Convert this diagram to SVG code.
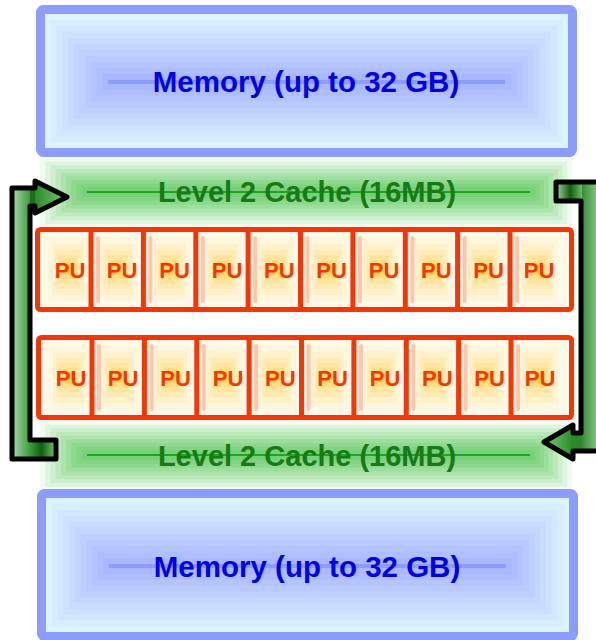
<svg xmlns="http://www.w3.org/2000/svg" xmlns:xlink="http://www.w3.org/1999/xlink" width="596" height="640" viewBox="0 0 596 640">
<style>
.mem{font-family:"Liberation Sans",Arial,sans-serif;font-weight:bold;font-size:29.5px;fill:#0000ee;text-anchor:middle}
.l2{font-family:"Liberation Sans",Arial,sans-serif;font-weight:bold;font-size:29px;fill:#167a16;text-anchor:middle}
.pu{font-family:"Liberation Sans",Arial,sans-serif;font-weight:bold;font-size:22px;fill:#ff3300;text-anchor:middle}
.memborder{fill:none;stroke:#8c9cff;stroke-width:9}
.red{fill:none;stroke:#ff3300;stroke-width:5}
.outline{fill:none;stroke:#000;stroke-width:5;stroke-linejoin:round}
</style>
<defs>
<g id="cell">
<rect x="0" y="0" width="48" height="75" fill="#fffaea"/>
<rect x="4" y="6" width="40" height="63" fill="#fff6dc"/>
<rect x="8" y="12" width="32" height="51" fill="#fff1cc"/>
<rect x="11" y="18" width="26" height="39" fill="#ffebb6"/>
<rect x="14" y="23" width="20" height="29" fill="#ffe59f"/>
<rect x="17" y="28" width="14" height="19" fill="#ffde86"/>
<rect x="20" y="32" width="8" height="11" fill="#ffd766"/>
<rect x="23" y="33" width="2" height="9" fill="#ffcc22"/>
</g>
<rect id="strip" x="0" y="0" width="4" height="67" rx="2" fill="#ffc6ae"/>
<g id="memfill">
<rect x="45" y="14" width="523" height="134" fill="#dcf4ff"/>
<rect x="50.7" y="20" width="511.5" height="122.2" fill="#d7eeff"/>
<rect x="56.5" y="26" width="500.1" height="110.4" fill="#d2e8ff"/>
<rect x="62.2" y="32" width="488.6" height="98.5" fill="#cde2ff"/>
<rect x="67.9" y="38" width="477.2" height="86.7" fill="#c8dcff"/>
<rect x="73.6" y="44" width="465.7" height="74.9" fill="#c3d6ff"/>
<rect x="79.4" y="50" width="454.3" height="63.1" fill="#bdd0ff"/>
<rect x="85.1" y="56" width="442.8" height="51.3" fill="#b8caff"/>
<rect x="90.8" y="62" width="431.4" height="39.5" fill="#b3c4ff"/>
<rect x="96.5" y="68" width="419.9" height="27.6" fill="#aebeff"/>
<rect x="102.3" y="74" width="408.5" height="15.8" fill="#a9b8ff"/>
<rect x="108" y="80" width="397" height="4" fill="#8c9cff"/>
</g>
<g id="cachefill">
<rect x="40" y="158" width="532" height="70" fill="#f2fbf2"/>
<rect x="45.2" y="161.7" width="522.1" height="62.4" fill="#dff5df"/>
<rect x="50.4" y="165.3" width="512.3" height="54.9" fill="#cdefcd"/>
<rect x="55.7" y="169" width="502.3" height="47.3" fill="#bceabc"/>
<rect x="60.9" y="172.7" width="492.4" height="39.7" fill="#ace4ac"/>
<rect x="66.1" y="176.3" width="482.6" height="32.2" fill="#9cde9c"/>
<rect x="71.3" y="180" width="472.7" height="24.7" fill="#8ed98e"/>
<rect x="76.6" y="183.7" width="462.7" height="17.1" fill="#82d482"/>
<rect x="81.8" y="187.3" width="452.9" height="9.6" fill="#78d078"/>
<rect x="87" y="191" width="443" height="2" fill="#1fa51f"/>
</g>
<linearGradient id="gVertL" x1="0" y1="0" x2="1" y2="0"><stop offset="0" stop-color="#a8dca8"/><stop offset="1" stop-color="#3c9c3c"/></linearGradient>
<linearGradient id="gFootL" x1="0" y1="0" x2="1" y2="0"><stop offset="0" stop-color="#3c9c3c"/><stop offset="0.45" stop-color="#0e5e0e"/><stop offset="1" stop-color="#7cc87c"/></linearGradient>
<linearGradient id="gHead" x1="0" y1="0" x2="1" y2="0"><stop offset="0" stop-color="#2a8a2a"/><stop offset="1" stop-color="#76cc76"/></linearGradient>
<linearGradient id="gVertR" x1="0" y1="0" x2="1" y2="0"><stop offset="0" stop-color="#2f8a2f"/><stop offset="1" stop-color="#9ad49a"/></linearGradient>
<linearGradient id="gStemR" x1="0" y1="0" x2="1" y2="0"><stop offset="0" stop-color="#a0d8a0"/><stop offset="0.55" stop-color="#0e5e0e"/><stop offset="1" stop-color="#6abf6a"/></linearGradient>
<linearGradient id="gHeadR" x1="0" y1="0" x2="1" y2="0"><stop offset="0" stop-color="#76cc76"/><stop offset="1" stop-color="#2a8a2a"/></linearGradient>
</defs>

<g id="memory-top">
<use xlink:href="#memfill"/>
<rect class="memborder" x="40.5" y="9.5" width="532" height="143" rx="3"/>
<text class="mem" x="306" y="92">Memory (up to 32 GB)</text>
</g>

<g id="cache-top">
<use xlink:href="#cachefill"/>
<text class="l2" x="307" y="202">Level 2 Cache (16MB)</text>
</g>

<g id="pu-row-1">
<rect x="39.5" y="231.5" width="530" height="76" fill="#fffaea"/>
<use xlink:href="#cell" x="44" y="232"/>
<use xlink:href="#cell" x="93.5" y="232"/>
<use xlink:href="#cell" x="145.9" y="232"/>
<use xlink:href="#cell" x="198.3" y="232"/>
<use xlink:href="#cell" x="250.6" y="232"/>
<use xlink:href="#cell" x="303" y="232"/>
<use xlink:href="#cell" x="355.4" y="232"/>
<use xlink:href="#cell" x="407.8" y="232"/>
<use xlink:href="#cell" x="460.1" y="232"/>
<use xlink:href="#cell" x="514" y="232"/>
<use xlink:href="#strip" x="96" y="236"/>
<use xlink:href="#strip" x="148.4" y="236"/>
<use xlink:href="#strip" x="200.8" y="236"/>
<use xlink:href="#strip" x="253.1" y="236"/>
<use xlink:href="#strip" x="305.5" y="236"/>
<use xlink:href="#strip" x="357.9" y="236"/>
<use xlink:href="#strip" x="410.3" y="236"/>
<use xlink:href="#strip" x="462.6" y="236"/>
<use xlink:href="#strip" x="515" y="236"/>
<rect class="red" x="37.5" y="229.5" width="534" height="80" rx="3"/>
<path class="red" d="M91 229.5V309.5M143.4 229.5V309.5M195.8 229.5V309.5M248.1 229.5V309.5M300.5 229.5V309.5M352.9 229.5V309.5M405.3 229.5V309.5M457.6 229.5V309.5M510 229.5V309.5"/>
<text class="pu" x="70" y="277.5">PU</text>
<text class="pu" x="122" y="277.5">PU</text>
<text class="pu" x="174.5" y="277.5">PU</text>
<text class="pu" x="227" y="277.5">PU</text>
<text class="pu" x="279.3" y="277.5">PU</text>
<text class="pu" x="331.6" y="277.5">PU</text>
<text class="pu" x="384" y="277.5">PU</text>
<text class="pu" x="436.3" y="277.5">PU</text>
<text class="pu" x="488.6" y="277.5">PU</text>
<text class="pu" x="539" y="277.5">PU</text>
</g>

<g id="pu-row-2">
<rect x="40.5" y="340" width="529" height="75" fill="#fffaea"/>
<use xlink:href="#cell" x="45" y="340"/>
<use xlink:href="#cell" x="94.5" y="340"/>
<use xlink:href="#cell" x="146.9" y="340"/>
<use xlink:href="#cell" x="199.3" y="340"/>
<use xlink:href="#cell" x="251.6" y="340"/>
<use xlink:href="#cell" x="304" y="340"/>
<use xlink:href="#cell" x="356.4" y="340"/>
<use xlink:href="#cell" x="408.8" y="340"/>
<use xlink:href="#cell" x="461.1" y="340"/>
<use xlink:href="#cell" x="514.5" y="340"/>
<use xlink:href="#strip" x="97" y="344"/>
<use xlink:href="#strip" x="149.4" y="344"/>
<use xlink:href="#strip" x="201.8" y="344"/>
<use xlink:href="#strip" x="254.1" y="344"/>
<use xlink:href="#strip" x="306.5" y="344"/>
<use xlink:href="#strip" x="358.9" y="344"/>
<use xlink:href="#strip" x="411.3" y="344"/>
<use xlink:href="#strip" x="463.6" y="344"/>
<use xlink:href="#strip" x="516" y="344"/>
<rect class="red" x="38.5" y="337.5" width="533" height="80" rx="3"/>
<path class="red" d="M92 337.5V417.5M144.4 337.5V417.5M196.8 337.5V417.5M249.1 337.5V417.5M301.5 337.5V417.5M353.9 337.5V417.5M406.3 337.5V417.5M458.6 337.5V417.5M511 337.5V417.5"/>
<text class="pu" x="71" y="385.5">PU</text>
<text class="pu" x="123" y="385.5">PU</text>
<text class="pu" x="175.5" y="385.5">PU</text>
<text class="pu" x="228" y="385.5">PU</text>
<text class="pu" x="280.3" y="385.5">PU</text>
<text class="pu" x="332.6" y="385.5">PU</text>
<text class="pu" x="385" y="385.5">PU</text>
<text class="pu" x="437.3" y="385.5">PU</text>
<text class="pu" x="489.6" y="385.5">PU</text>
<text class="pu" x="540" y="385.5">PU</text>
</g>

<g id="cache-bottom">
<use xlink:href="#cachefill" y="263"/>
<text class="l2" x="307" y="466">Level 2 Cache (16MB)</text>
</g>

<g id="memory-bottom">
<use xlink:href="#memfill" x="1" y="484"/>
<rect class="memborder" x="41.5" y="493.5" width="532" height="143" rx="3"/>
<text class="mem" x="307" y="577">Memory (up to 32 GB)</text>
</g>

<g id="connectors">
<g id="arrow-left">
<rect x="12" y="188" width="18" height="271" fill="url(#gVertL)"/>
<rect x="30" y="440" width="26" height="19" fill="url(#gFootL)"/>
<rect x="30" y="188" width="6" height="18" fill="#1e6e1e"/>
<polygon points="35,181 67,197 35,213" fill="url(#gHead)"/>
<path class="outline" d="M12 459V188H35V181L67 197L35 213V206H30V440H56V459Z"/>
</g>
<g id="arrow-right">
<rect x="581" y="182" width="20" height="269" fill="url(#gVertR)"/>
<rect x="556" y="182" width="26" height="19" fill="url(#gStemR)"/>
<rect x="572" y="433" width="10" height="18" fill="#2a8a2a"/>
<polygon points="573,425 544,442 573,459" fill="url(#gHeadR)"/>
<path class="outline" d="M556 182H601V451H573V459L544 442L573 425V433H581V201H556Z"/>
</g>
</g>
</svg>
